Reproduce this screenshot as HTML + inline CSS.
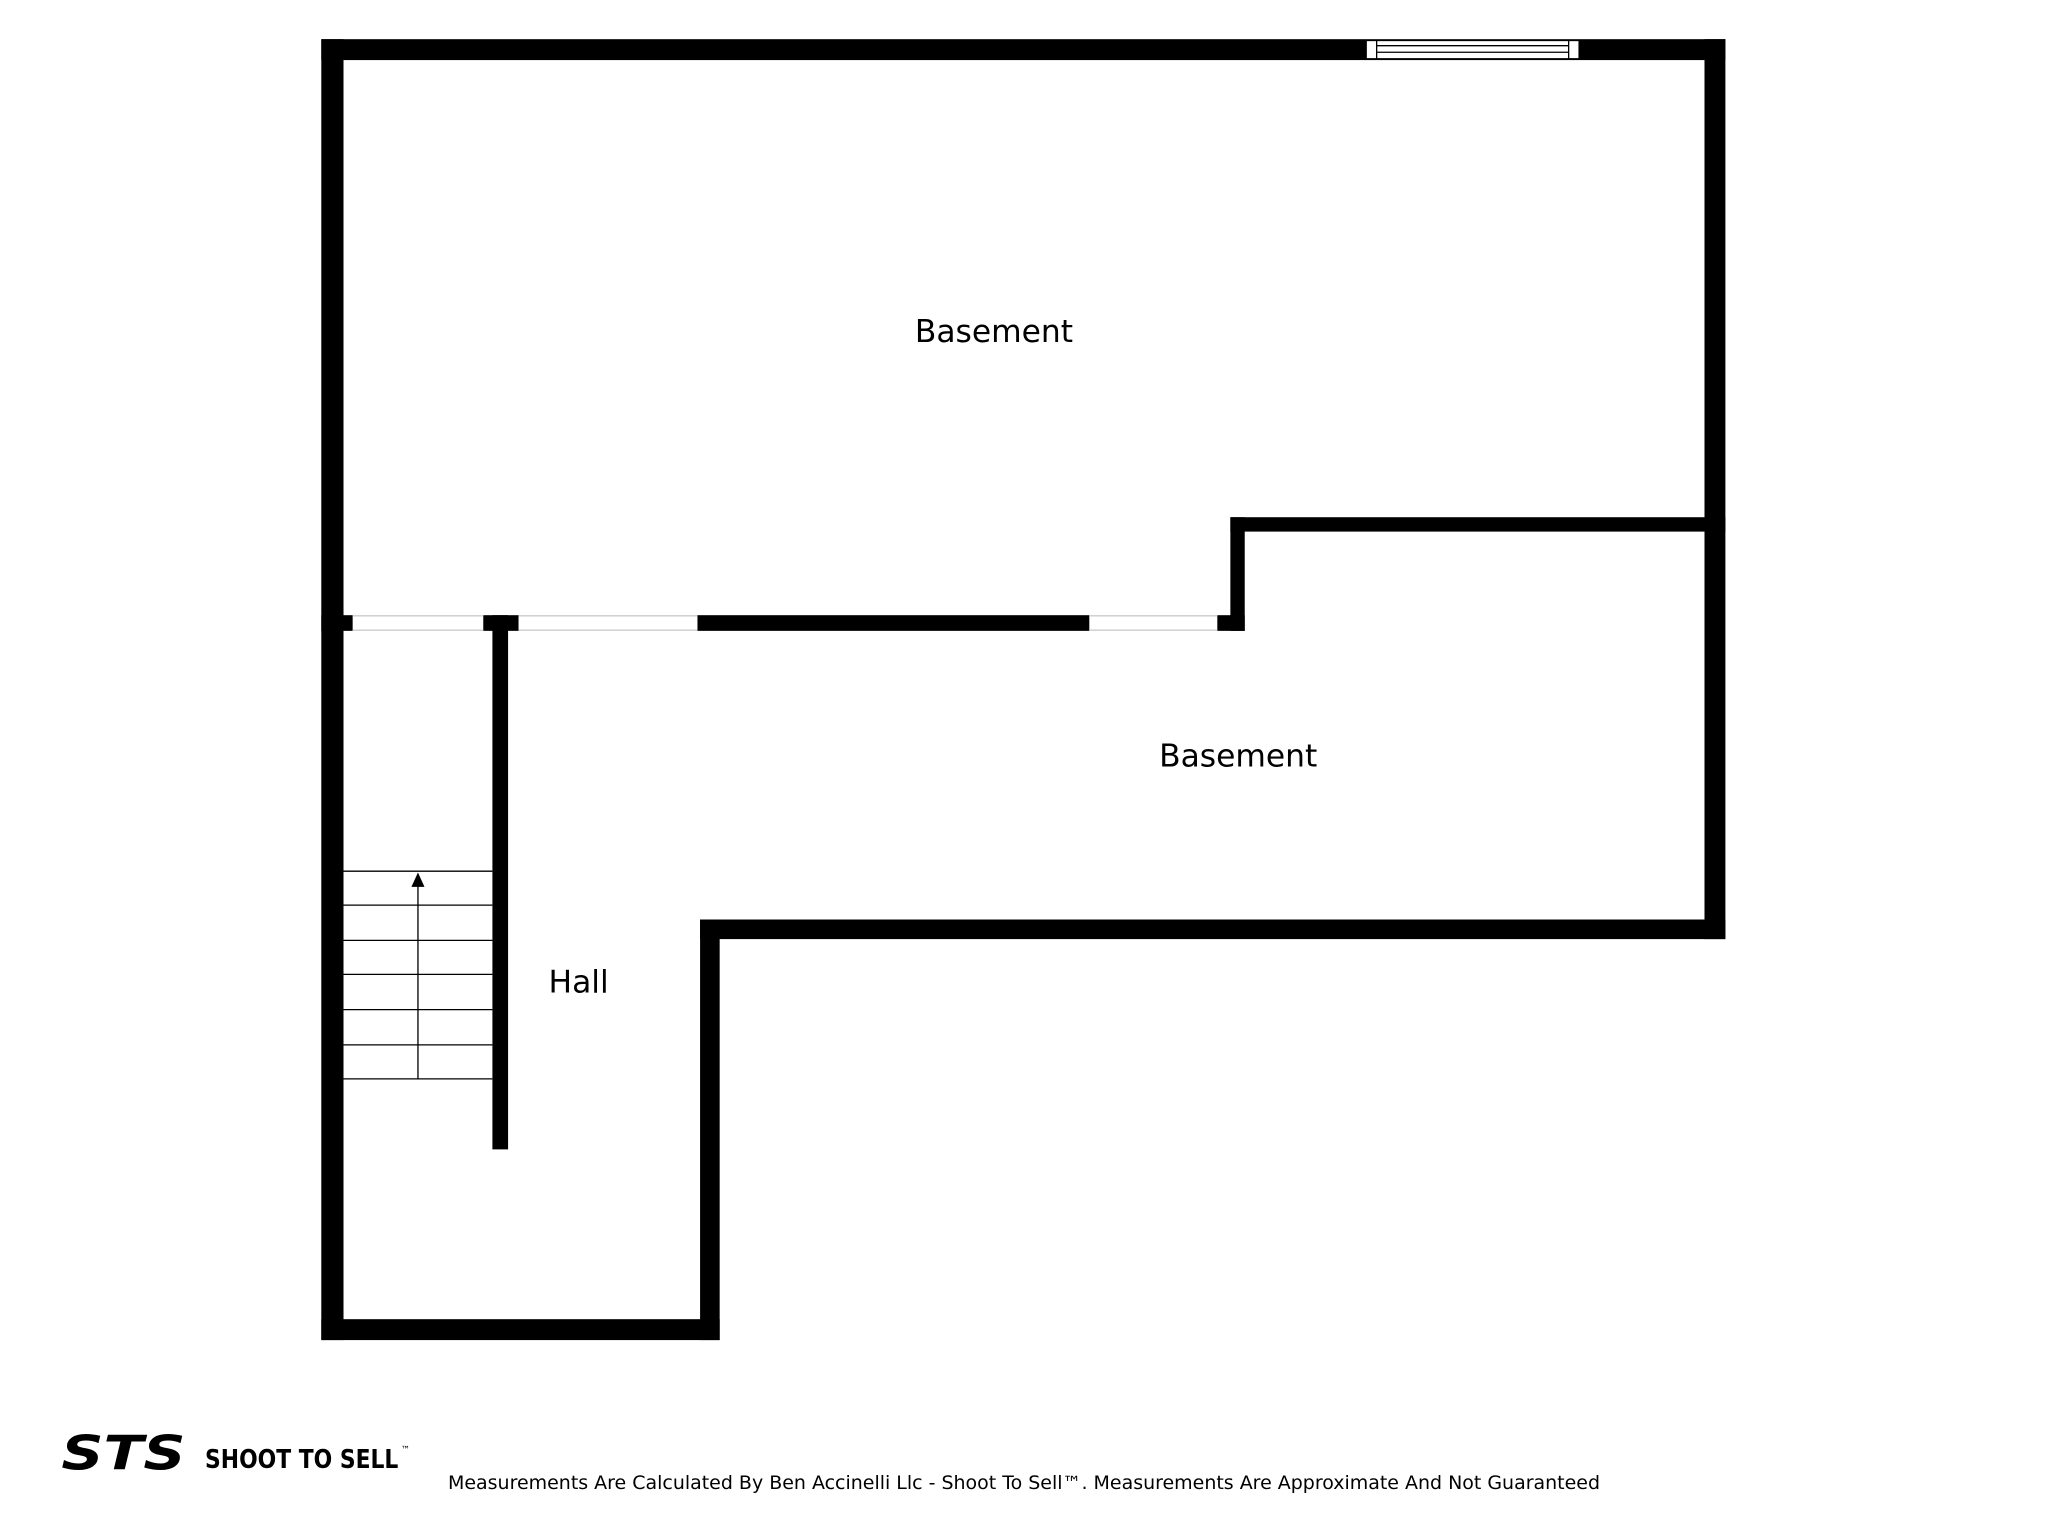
<!DOCTYPE html>
<html><head><meta charset="utf-8"><style>
html,body{margin:0;padding:0;background:#fff;}
svg{display:block;}
text{font-family:"DejaVu Sans","Liberation Sans",sans-serif;fill:#000;}
</style></head><body>
<svg width="2048" height="1536" viewBox="0 0 1568 1176" xmlns="http://www.w3.org/2000/svg">
<rect width="1568" height="1176" fill="#fff"/>
<g fill="#000">
<!-- top wall -->
<rect x="246" y="30" width="1075" height="16"/>
<!-- left wall -->
<rect x="246" y="30" width="17" height="996"/>
<!-- right wall -->
<rect x="1305" y="30" width="16" height="689"/>
<!-- inner step wall -->
<rect x="942" y="396" width="379" height="11"/>
<rect x="942" y="396" width="11" height="87"/>
<!-- middle wall segments -->
<rect x="246" y="471" width="24" height="12"/>
<rect x="370" y="471" width="27" height="12"/>
<rect x="534" y="471" width="300" height="12"/>
<rect x="932" y="471" width="21" height="12"/>
<!-- basement bottom -->
<rect x="536" y="704" width="785" height="15"/>
<!-- hall right -->
<rect x="536" y="704" width="15" height="322"/>
<!-- hall bottom -->
<rect x="246" y="1010" width="305" height="16"/>
<!-- stair wall -->
<rect x="377" y="471" width="12" height="409"/>
</g>
<!-- door openings thin lines -->
<g stroke="#ccc" stroke-width="1">
<line x1="270" y1="471.5" x2="370" y2="471.5"/><line x1="270" y1="482.5" x2="370" y2="482.5"/>
<line x1="397" y1="471.5" x2="534" y2="471.5"/><line x1="397" y1="482.5" x2="534" y2="482.5"/>
<line x1="834" y1="471.5" x2="932" y2="471.5"/><line x1="834" y1="482.5" x2="932" y2="482.5"/>
</g>
<!-- window -->
<rect x="1046" y="31" width="163" height="14" fill="#fff" stroke="#000" stroke-width="1"/>
<line x1="1054" y1="31" x2="1054" y2="45" stroke="#000" stroke-width="1"/>
<line x1="1201" y1="31" x2="1201" y2="45" stroke="#000" stroke-width="1"/>
<line x1="1054" y1="35" x2="1201" y2="35" stroke="#000" stroke-width="1"/>
<line x1="1054" y1="40" x2="1201" y2="40" stroke="#000" stroke-width="1"/>
<!-- stairs -->
<g stroke="#000" stroke-width="1">
<line x1="263" y1="667" x2="377" y2="667"/>
<line x1="263" y1="693" x2="377" y2="693"/>
<line x1="263" y1="720" x2="377" y2="720"/>
<line x1="263" y1="746" x2="377" y2="746"/>
<line x1="263" y1="773" x2="377" y2="773"/>
<line x1="263" y1="800" x2="377" y2="800"/>
<line x1="263" y1="826" x2="377" y2="826"/>
<line x1="320" y1="678" x2="320" y2="826"/>
</g>
<polygon points="320,668 315,679 325,679" fill="#000"/>
<!-- labels -->
<text x="761" y="262" font-size="24" text-anchor="middle">Basement</text>
<text x="948" y="587" font-size="24" text-anchor="middle">Basement</text>
<text x="443" y="760" font-size="24" text-anchor="middle">Hall</text>
<!-- logo -->
<text x="47" y="1125" font-size="36" font-weight="bold" font-style="italic" textLength="95" lengthAdjust="spacingAndGlyphs" font-family="Liberation Sans">STS</text>
<text x="157" y="1124" font-size="20" font-weight="bold" textLength="148" lengthAdjust="spacingAndGlyphs" font-family="Liberation Sans">SHOOT TO SELL</text>
<text x="307" y="1112" font-size="7" font-family="Liberation Sans">™</text>
<text x="343" y="1140" font-size="14" textLength="882" lengthAdjust="spacingAndGlyphs">Measurements Are Calculated By Ben Accinelli Llc - Shoot To Sell™. Measurements Are Approximate And Not Guaranteed</text>
</svg>
</body></html>
